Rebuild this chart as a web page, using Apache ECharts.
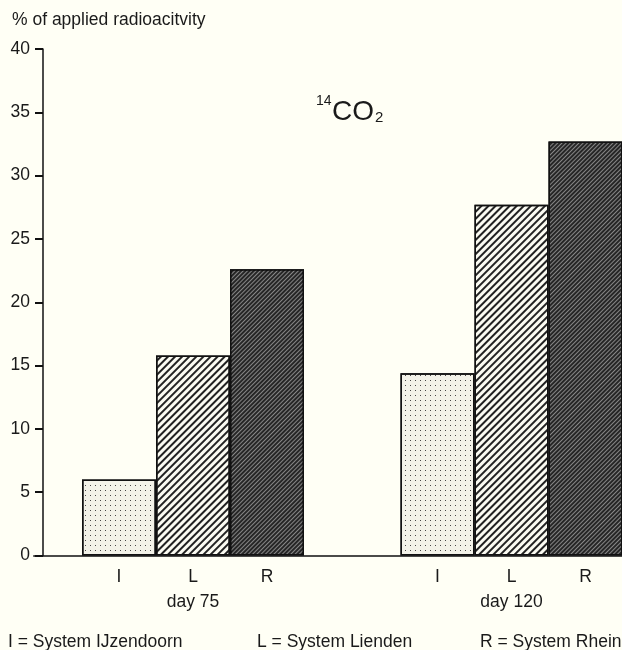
<!DOCTYPE html>
<html>
<head>
<meta charset="utf-8">
<script src="https://cdn.jsdelivr.net/npm/echarts@6/dist/echarts.min.js"></script>
<style>
html,body{margin:0;padding:0;background:#fffff5;}
#chart{width:622px;height:650px;}
</style>
</head>
<body>
<div id="chart"></div>
<script>
// ---- data ----
const groups = ['day 75', 'day 120'];
const systems = ['I', 'L', 'R'];
const systemNames = ['I = System IJzendoorn', 'L = System Lienden', 'R = System Rhein'];
const valuesI = [6.0, 14.4];
const valuesL = [15.8, 27.7];
const valuesR = [22.6, 32.7];
const yTicks = [0, 5, 10, 15, 20, 25, 30, 35, 40];
const yTitle = '% of applied radioacitvity';

// ---- styles ----
const FONT = '"Liberation Sans", Arial, Helvetica, sans-serif';
const TXT = '#1a1a1a';
const FS = 17.5;
const decals = {
  I: { symbol: 'rect', symbolSize: 1, color: 'rgba(40,40,40,0.85)', dashArrayX: [1, 3.5], dashArrayY: [1, 3.5], rotation: 0 },
  L: { symbol: 'rect', symbolSize: 1, color: '#222', dashArrayX: [1, 0], dashArrayY: [1.4, 2.8], rotation: -Math.PI / 4 },
  R: { symbol: 'rect', symbolSize: 1, color: 'rgba(150,150,150,0.85)', dashArrayX: [1, 0], dashArrayY: [1, 1.8], rotation: -Math.PI / 4 }
};
const baseColors = { I: '#f3f2e8', L: '#fbfbf2', R: '#262626' };
const seriesValues = { I: valuesI, L: valuesL, R: valuesR };

const chart = echarts.init(document.getElementById('chart'), null, { renderer: 'canvas' });

const option = {
  backgroundColor: '#fffff5',
  animation: false,
  textStyle: { fontFamily: FONT, color: TXT },
  title: {
    text: yTitle,
    left: 12, top: 11, padding: 0,
    textStyle: { fontFamily: FONT, fontSize: FS, fontWeight: 'normal', color: TXT }
  },
  grid: { left: 33.75, top: 49, width: 637, bottom: 94.5, containLabel: false, outerBoundsMode: 'none' },
  xAxis: {
    type: 'category',
    data: groups,
    axisLine: { lineStyle: { color: '#111', width: 1.5 } },
    axisTick: { show: false },
    axisLabel: {
      margin: 9,
      interval: 0,
      formatter: function (v) {
        return systems.map(s => '{s|' + s + '}').join('') + '\n{d|' + v + '}';
      },
      rich: {
        s: { width: 74, align: 'center', fontSize: FS, lineHeight: 25, fontFamily: FONT, color: TXT },
        d: { fontSize: FS, lineHeight: 25, fontFamily: FONT, color: TXT }
      }
    },
    splitLine: { show: false }
  },
  yAxis: {
    type: 'value',
    min: yTicks[0], max: yTicks[yTicks.length - 1], interval: yTicks[1] - yTicks[0],
    offset: -9.25,
    axisLine: { show: true, lineStyle: { color: '#111', width: 1.5 } },
    axisTick: { show: true, inside: false, length: 8, lineStyle: { color: '#111', width: 2 } },
    axisLabel: { margin: 13, fontSize: FS, fontFamily: FONT, color: TXT },
    splitLine: { show: false }
  },
  series: systems.map(s => ({
    name: s,
    type: 'bar',
    data: seriesValues[s],
    barWidth: 74,
    barGap: '0%',
    itemStyle: {
      color: baseColors[s],
      borderColor: '#111',
      borderWidth: 1.5,
      decal: decals[s]
    }
  })),
  graphic: [
    { type: 'text', left: 316, top: 94, style: { text: '14', fontSize: 14, fontFamily: FONT, fill: TXT } },
    { type: 'text', left: 332, top: 98, style: { text: 'CO', fontSize: 28, fontFamily: FONT, fill: TXT } },
    { type: 'text', left: 375, top: 110, style: { text: '2', fontSize: 15, fontFamily: FONT, fill: TXT } },
    { type: 'text', left: 8, top: 633, style: { text: systemNames[0], fontSize: FS, fontFamily: FONT, fill: TXT } },
    { type: 'text', left: 257, top: 633, style: { text: systemNames[1], fontSize: FS, fontFamily: FONT, fill: TXT } },
    { type: 'text', left: 480, top: 633, style: { text: systemNames[2], fontSize: FS, fontFamily: FONT, fill: TXT } }
  ]
};
chart.setOption(option);
</script>
</body>
</html>
